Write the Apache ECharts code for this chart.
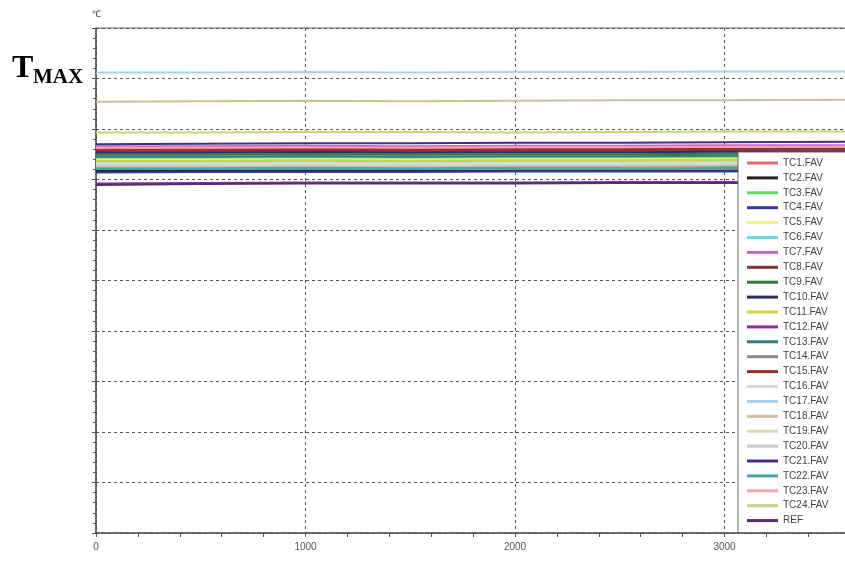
<!DOCTYPE html>
<html><head><meta charset="utf-8">
<script src="https://cdn.jsdelivr.net/npm/echarts@6/dist/echarts.min.js"></script>
<style>html,body{margin:0;padding:0;background:#fff}#c{width:845px;height:565px}</style>
</head><body><div id="c"></div>
<script>
// sample times (s)
const times = [0, 500, 1000, 1500, 2000, 2500, 3000, 3600];
const seriesNames = ['TC1.FAV','TC2.FAV','TC3.FAV','TC4.FAV','TC5.FAV','TC6.FAV','TC7.FAV','TC8.FAV','TC9.FAV','TC10.FAV','TC11.FAV','TC12.FAV','TC13.FAV','TC14.FAV','TC15.FAV','TC16.FAV','TC17.FAV','TC18.FAV','TC19.FAV','TC20.FAV','TC21.FAV','TC22.FAV','TC23.FAV','TC24.FAV','REF'];
const seriesColors = ['#e06a6a','#222222','#62d862','#3a3a96','#f2f27a','#6cd8e0','#c864c8','#7a3a3a','#2f7a3a','#2e2e66','#d2d24a','#8a2aa8','#2f7f7f','#8a8a8a','#a02a2a','#d8d8d8','#a8d2ea','#d2bca2','#dcdcbc','#c8c8c8','#4a2a82','#4aa6a6','#f2a2b4','#c8d282','#5a2a72'];
// values (relative temperature scale, 0..100) per series at each time
const TC1  = [76.4, 76.2, 76.1, 76.1, 76.0, 76.1, 76.1, 76.2];
const TC2  = [71.7, 71.7, 71.8, 71.7, 71.8, 71.8, 71.8, 71.9];
const TC3  = [74.3, 74.3, 74.4, 74.3, 74.4, 74.4, 74.4, 74.5];
const TC4  = [71.4, 71.5, 71.5, 71.5, 71.6, 71.6, 71.6, 71.7];
const TC5  = [73.9, 73.9, 74.0, 73.9, 74.0, 74.0, 74.1, 74.1];
const TC6  = [73.5, 73.5, 73.6, 73.5, 73.6, 73.6, 73.6, 73.7];
const TC7  = [76.6, 76.6, 76.7, 76.6, 76.7, 76.7, 76.8, 76.8];
const TC8  = [75.6, 75.6, 75.7, 75.6, 75.7, 75.7, 75.8, 75.8];
const TC9  = [74.9, 74.9, 75.0, 74.9, 75.0, 75.0, 75.1, 75.1];
const TC10 = [75.3, 75.3, 75.4, 75.3, 75.4, 75.4, 75.5, 75.5];
const TC11 = [73.7, 73.7, 73.8, 73.7, 73.8, 73.8, 73.9, 73.9];
const TC12 = [69.2, 69.3, 69.4, 69.4, 69.4, 69.5, 69.5, 69.5];
const TC13 = [74.5, 74.5, 74.6, 74.5, 74.6, 74.6, 74.7, 74.7];
const TC14 = [72.4, 72.4, 72.5, 72.4, 72.5, 72.5, 72.6, 72.6];
const TC15 = [75.9, 75.9, 76.0, 75.9, 76.0, 76.0, 76.1, 76.1];
const TC16 = [72.9, 72.9, 73.0, 72.9, 73.0, 73.0, 73.1, 73.1];
const TC17 = [91.2, 91.2, 91.3, 91.2, 91.3, 91.3, 91.4, 91.4];
const TC18 = [85.4, 85.5, 85.6, 85.5, 85.6, 85.7, 85.7, 85.8];
const TC19 = [73.2, 73.2, 73.3, 73.2, 73.3, 73.3, 73.4, 73.4];
const TC20 = [72.6, 72.6, 72.7, 72.6, 72.7, 72.7, 72.8, 72.8];
const TC21 = [77.0, 77.1, 77.2, 77.2, 77.3, 77.3, 77.4, 77.5];
const TC22 = [72.1, 72.1, 72.2, 72.1, 72.2, 72.2, 72.3, 72.3];
const TC23 = [76.3, 76.3, 76.4, 76.3, 76.4, 76.4, 76.5, 76.5];
const TC24 = [79.3, 79.3, 79.4, 79.4, 79.3, 79.4, 79.5, 79.5];
const REF  = [68.9, 69.1, 69.2, 69.2, 69.2, 69.3, 69.3, 69.3];
const seriesValues = [TC1,TC2,TC3,TC4,TC5,TC6,TC7,TC8,TC9,TC10,TC11,TC12,TC13,TC14,TC15,TC16,TC17,TC18,TC19,TC20,TC21,TC22,TC23,TC24,REF];
const xTickLabels = ['0','1000','2000','3000'];

const chart = echarts.init(document.getElementById('c'));
const font = 'Liberation Sans, Arial, sans-serif';
const series = seriesNames.map((n, i) => ({
  name: n, type: 'line', symbol: 'none', silent: true,
  data: times.map((t, j) => [t, seriesValues[i][j]]),
  itemStyle: {color: seriesColors[i]},
  lineStyle: {color: seriesColors[i], width: 2}
}));
chart.setOption({
  animation: false,
  backgroundColor: '#fff',
  grid: {left: 96, right: -89, top: 28, bottom: 32, outerBoundsMode: 'none', containLabel: false,
         show: true, borderColor: '#666', borderWidth: 1},
  xAxis: {
    type: 'value', min: 0, max: 4000, interval: 1000,
    axisLine: {lineStyle: {color: '#555', width: 1.5}},
    axisTick: {length: 4, lineStyle: {color: '#555'}},
    minorTick: {show: true, splitNumber: 5, length: 4, lineStyle: {color: '#555'}},
    axisLabel: {color: '#555', fontSize: 10, fontFamily: font, margin: 9,
      formatter: v => { const s = String(v); return xTickLabels.indexOf(s) >= 0 ? s : ''; }},
    splitLine: {show: true, lineStyle: {color: '#555', type: [3, 3], width: 1}}
  },
  yAxis: {
    type: 'value', min: 0, max: 100, interval: 10,
    name: '℃', nameLocation: 'end', nameGap: 9,
    nameTextStyle: {color: '#333', fontSize: 9, fontFamily: font, align: 'center'},
    axisLine: {show: true, lineStyle: {color: '#555', width: 1.5}},
    axisTick: {show: true, length: 4, lineStyle: {color: '#555'}},
    minorTick: {show: true, splitNumber: 5, length: 3, lineStyle: {color: '#555'}},
    axisLabel: {show: false},
    splitLine: {show: true, lineStyle: {color: '#555', type: [3, 3], width: 1}}
  },
  legend: {
    orient: 'vertical', left: 738, top: 152,
    padding: [5, 40, 6, 9],
    backgroundColor: '#fff', borderColor: '#666', borderWidth: 1,
    icon: 'rect', itemWidth: 31, itemHeight: 3, itemGap: 2.9,
    textStyle: {color: '#444', fontSize: 10, fontFamily: font, lineHeight: 12},
    selectedMode: false,
    data: seriesNames
  },
  graphic: [
    {type: 'text', left: 12, top: 53, z: 100,
     style: {text: 'T', font: 'bold 32px "Liberation Serif", "Times New Roman", serif', fill: '#000'}},
    {type: 'text', left: 33, top: 67, z: 100,
     style: {text: 'MAX', font: 'bold 21px "Liberation Serif", "Times New Roman", serif', fill: '#000'}}
  ],
  series: series
});
</script>
</body></html>
